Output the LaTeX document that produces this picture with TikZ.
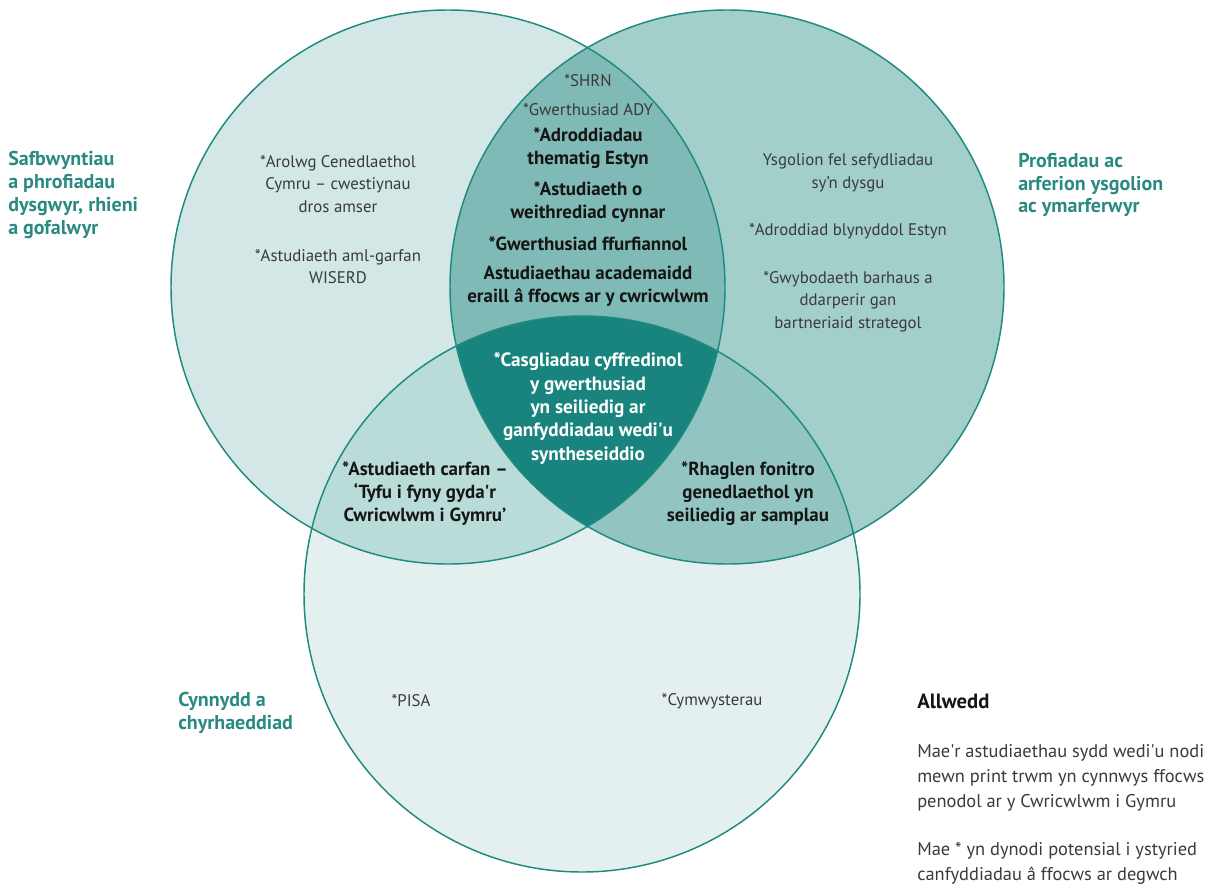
\documentclass[tikz,border=0pt]{standalone}
\usepackage{fontspec}
\setmainfont{PT Sans}
\newcommand{\apos}{\textquotesingle}
\definecolor{cL}{HTML}{D2E7E6}
\definecolor{cR}{HTML}{A3CFCB}
\definecolor{cB}{HTML}{E4F0EF}
\definecolor{cLR}{HTML}{80BAB6}
\definecolor{cLB}{HTML}{B9DCD9}
\definecolor{cRB}{HTML}{92C5C1}
\definecolor{cC}{HTML}{19847D}
\definecolor{edge}{HTML}{1F8A80}
\definecolor{tealtxt}{HTML}{2A8A82}
\definecolor{bodygray}{HTML}{3A3A3A}
\definecolor{boldblack}{HTML}{151515}
\tikzset{
  body/.style={font=\fontsize{12.6}{17}\selectfont, text=bodygray, align=center, inner sep=0pt},
  boldtxt/.style={font=\fontsize{14.2}{17.3}\selectfont\bfseries, text=boldblack, align=center, inner sep=0pt},
  whitetxt/.style={font=\fontsize{14.4}{17.5}\selectfont\bfseries, text=white, align=center, inner sep=0pt},
  setlabel/.style={font=\fontsize{15}{17.2}\selectfont\bfseries, text=tealtxt, align=left, anchor=west, inner sep=0pt},
  keytxt/.style={font=\fontsize{13.8}{18.8}\selectfont, text=bodygray, align=left, anchor=west, inner sep=0pt},
  keyhead/.style={font=\fontsize{15.5}{18.8}\selectfont\bfseries, text=boldblack, anchor=west, inner sep=0pt},
  ring/.style={draw=edge, line width=1.1pt}
}
\begin{document}
\begin{tikzpicture}[x=0.75pt,y=-0.75pt]
\useasboundingbox (0,0) rectangle (1209,888);
\coordinate (cl) at (448,287);
\coordinate (cr) at (727,287);
\coordinate (cb) at (582,594);
\def\rl{207.75pt}
\def\rb{208.5pt}
% base fills
\fill[cL] (cl) circle[radius=\rl];
\fill[cR] (cr) circle[radius=\rl];
\fill[cB] (cb) circle[radius=\rb];
% pairwise intersections
\begin{scope}
  \clip (cl) circle[radius=\rl];
  \fill[cLR] (cr) circle[radius=\rl];
  \fill[cLB] (cb) circle[radius=\rb];
\end{scope}
\begin{scope}
  \clip (cr) circle[radius=\rl];
  \fill[cRB] (cb) circle[radius=\rb];
\end{scope}
\begin{scope}
  \clip (cl) circle[radius=\rl];
  \clip (cr) circle[radius=\rl];
  \fill[cC] (cb) circle[radius=\rb];
\end{scope}
% outlines
\draw[ring] (cl) circle[radius=\rl];
\draw[ring] (cr) circle[radius=\rl];
\draw[ring] (cb) circle[radius=\rb];

% set labels
\node[setlabel] (saf) at (8,195) {Safbwyntiau\\a phrofiadau\\dysgwyr, rhieni\\a gofalwyr};
\node[setlabel] (prof) at (1018,185) {Profiadau ac\\arferion ysgolion\\ac ymarferwyr};
\node[setlabel] (cynn) at (178,713) {Cynnydd a\\chyrhaeddiad};

% left circle
\node[body] (arolwg) at (338,184) {*Arolwg Cenedlaethol\\Cymru -- cwestiynau\\dros amser};
\node[body] (wiserd) at (338,266.5) {*Astudiaeth aml-garfan\\WISERD};

% left-right lens
\node[body] (shrn) at (588,81) {*SHRN};
\node[body] (ady) at (588,110) {*Gwerthusiad ADY};
\node[boldtxt] (adrodd) at (588,148) {*Adroddiadau\\thematig Estyn};
\node[boldtxt] (astud) at (588,202) {*Astudiaeth o\\weithrediad cynnar};
\node[boldtxt] (ffurf) at (588,244) {*Gwerthusiad ffurfiannol};
\node[boldtxt] (acad) at (588,286) {Astudiaethau academaidd\\eraill â ffocws ar y cwricwlwm};

% right circle
\node[body] (ysgol) at (848,172.5) {Ysgolion fel sefydliadau\\sy’n dysgu};
\node[body] (blyn) at (848,231) {*Adroddiad blynyddol Estyn};
\node[body] (gwyb) at (848,301.5) {*Gwybodaeth barhaus a\\ddarperir gan\\bartneriaid strategol};

% centre
\node[whitetxt] (casgl) at (588,408.5) {*Casgliadau cyffredinol\\y gwerthusiad\\yn seiliedig ar\\ganfyddiadau wedi\apos u\\syntheseiddio};

% lower lenses
\node[boldtxt] (carfan) at (425,493.5) {*Astudiaeth carfan --\\‘Tyfu i fyny gyda\apos r\\Cwricwlwm i Gymru’};
\node[boldtxt] (rhaglen) at (748,493.5) {*Rhaglen fonitro\\genedlaethol yn\\seiliedig ar samplau};

% bottom circle
\node[body] (pisa) at (411,701) {*PISA};
\node[body] (cymw) at (712,701) {*Cymwysterau};

% key
\node[keyhead] (allwedd) at (917,701) {Allwedd};
\node[keytxt] (key1) at (917,778) {Mae\apos r astudiaethau sydd wedi\apos u nodi\\mewn print trwm yn cynnwys ffocws\\penodol ar y Cwricwlwm i Gymru};
\node[keytxt] (key2) at (917,863) {Mae * yn dynodi potensial i ystyried\\canfyddiadau â ffocws ar degwch};
\end{tikzpicture}
\end{document}
